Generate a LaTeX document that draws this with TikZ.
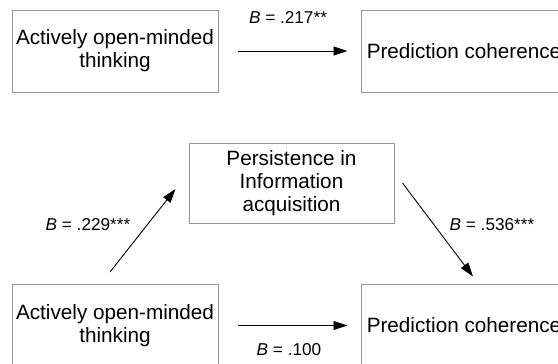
\documentclass[tikz,border=0pt]{standalone}
\usepackage{fontspec}
\setmainfont{Liberation Sans}
\usetikzlibrary{arrows.meta}
\definecolor{boxgray}{RGB}{150,150,150}

\begin{document}
\begin{tikzpicture}[x=1pt,y=-1pt,
  box/.style={draw=boxgray,line width=1pt,minimum width=206pt,minimum height=82pt,inner sep=0pt,align=center,font=\fontsize{20.7}{23}\selectfont},
  coef/.style={inner sep=0pt,font=\fontsize{17.2}{20}\selectfont},
  link/.style={draw=black,line width=0.9pt,-{Triangle[length=14pt,width=9pt]}}]
\useasboundingbox (0,0) rectangle (558,364);
\clip (0,0) rectangle (558,364);
% total effect
\node[box] (A) at (115,51) {Actively open-minded\\thinking};
\node[box] (P) at (464,51) {Prediction coherence};
% mediation
\node[box,minimum width=205pt,minimum height=80pt] (M) at (291.5,183) {Persistence in\\Information\\acquisition};
\node[box] (A2) at (115,325.5) {Actively open-minded\\thinking};
\node[box] (P2) at (464,325.5) {Prediction coherence};
\node[coef] (b1) at (288,17) {\textit{B} = .217**};
\node[coef] (b2) at (88,225) {\textit{B} = .229***};
\node[coef] (b3) at (492,225) {\textit{B} = .536***};
\node[coef] (b4) at (289,350) {\textit{B} = .100};
\path
([xshift=19pt]A.east) edge[link] ([xshift=-13pt]P.west)
([xshift=-5pt,yshift=12pt]A2.north) edge[link] ([xshift=-13pt,yshift=-6pt]M.west)
([xshift=8pt]M.east) edge[link] ([xshift=9pt,yshift=7.5pt]P2.north)
([xshift=19pt]A2.east) edge[link] ([xshift=-13pt]P2.west);
\end{tikzpicture}
\end{document}
